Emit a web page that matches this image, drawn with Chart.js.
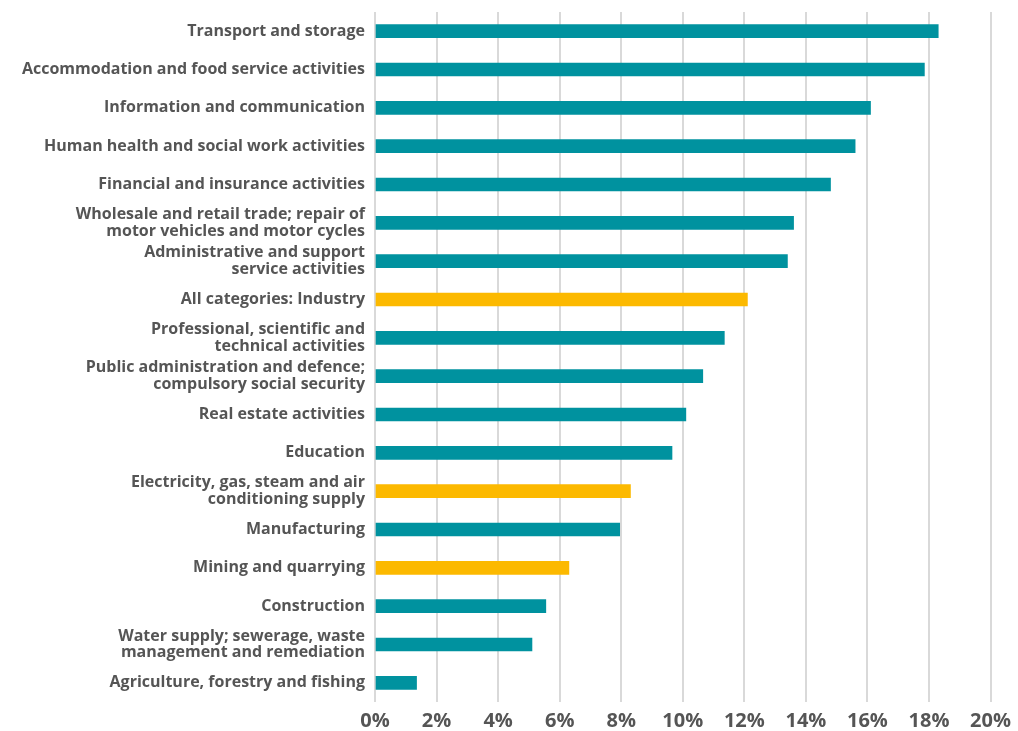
<!DOCTYPE html>
<html>
<head>
<meta charset="utf-8">
<title>Industry chart</title>
<script src="https://cdn.jsdelivr.net/npm/chart.js@4"></script>
<style>
  html, body { margin: 0; padding: 0; background: #fff; }
  #wrap { width: 1018px; height: 731px; position: relative; }
</style>
</head>
<body>
<div id="wrap"><canvas id="industryChart"></canvas></div>
<script>
// categories, top to bottom as in the picture
const categories = [
    'Transport and storage',
    'Accommodation and food service activities',
    'Information and communication',
    'Human health and social work activities',
    'Financial and insurance activities',
    ['Wholesale and retail trade; repair of', 'motor vehicles and motor cycles'],
    ['Administrative and support', 'service activities'],
    'All categories: Industry',
    ['Professional, scientific and', 'technical activities'],
    ['Public administration and defence;', 'compulsory social security'],
    'Real estate activities',
    'Education',
    ['Electricity, gas, steam and air', 'conditioning supply'],
    'Manufacturing',
    'Mining and quarrying',
    'Construction',
    ['Water supply; sewerage, waste', 'management and remediation'],
    'Agriculture, forestry and fishing'
];
const shares = [18.3, 17.85, 16.1, 15.6, 14.8, 13.6, 13.4, 12.1, 11.35, 10.65, 10.1, 9.65, 8.3, 7.95, 6.3, 5.55, 5.1, 1.35];
// highlighted categories (amber bars)
const highlighted = ['All categories: Industry', 'Electricity, gas, steam and air', 'Mining and quarrying'];
const xTicks = [0, 2, 4, 6, 8, 10, 12, 14, 16, 18, 20];

const teal = '#00929f';
const amber = '#fcb900';
const textColor = '#555555';

const barColors = categories.map(c => {
    const first = Array.isArray(c) ? c[0] : c;
    return highlighted.includes(first) ? amber : teal;
});

const ctx = document.getElementById('industryChart').getContext('2d');
const industryChart = new Chart(ctx, {
    type: 'bar',
    data: {
        labels: categories,
        datasets: [{
            data: shares,
            backgroundColor: barColors,
            borderWidth: 0,
            barThickness: 13
        }]
    },
    options: {
        indexAxis: 'y',
        responsive: true,
        maintainAspectRatio: false,
        animation: false,
        layout: { padding: { top: 12, right: 26, left: 0, bottom: 0 } },
        plugins: {
            legend: { display: false },
            tooltip: { enabled: false }
        },
        scales: {
            x: {
                min: 0,
                max: 20,
                afterBuildTicks: scale => {
                    scale.ticks = xTicks.map(v => ({ value: v }));
                },
                grid: { color: '#d9d9d9', lineWidth: 2, drawTicks: false },
                border: { display: false },
                ticks: {
                    color: textColor,
                    padding: 7,
                    font: { family: 'Open Sans', size: 20, weight: 'bold' },
                    callback: v => v + '%'
                },
                afterFit: scale => { scale.height = 29; }
            },
            y: {
                grid: { display: false, drawTicks: false },
                border: { display: false },
                ticks: {
                    color: textColor,
                    padding: 10,
                    autoSkip: false,
                    font: { family: 'Open Sans', size: 16, weight: 'bold', lineHeight: 1.05 }
                },
                afterFit: scale => {
                    scale.width = 375;
                    scale.paddingTop = 0;
                    scale.paddingBottom = 0;
                }
            }
        }
    }
});
</script>
</body>
</html>
